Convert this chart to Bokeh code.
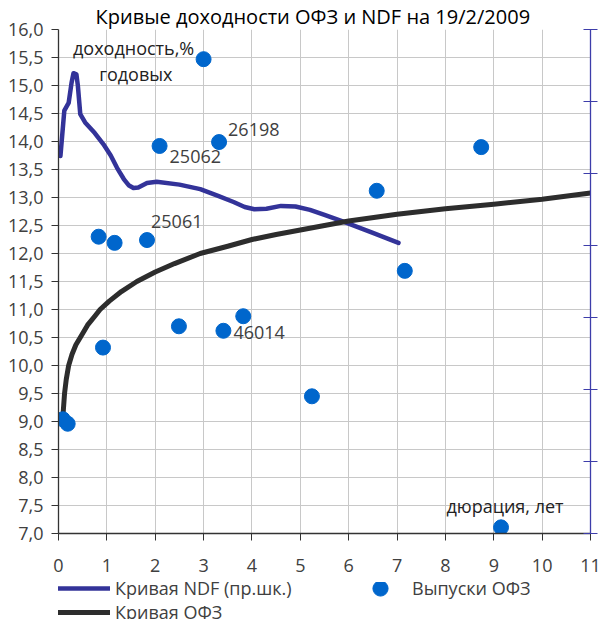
from bokeh.plotting import figure
from bokeh.layouts import column
from bokeh.models import (Range1d, LinearAxis, FixedTicker, Legend,
                          LegendItem, ColumnDataSource)
from bokeh.core.properties import value
from bokeh.embed import file_html
from bokeh.resources import INLINE

# ---------------- data ----------------
title_text = "Кривые доходности ОФЗ и NDF на 19/2/2009"

x_ticks = [0, 1, 2, 3, 4, 5, 6, 7, 8, 9, 10, 11]
y_ticks = [7.0, 7.5, 8.0, 8.5, 9.0, 9.5, 10.0, 10.5, 11.0, 11.5, 12.0, 12.5,
           13.0, 13.5, 14.0, 14.5, 15.0, 15.5, 16.0]
y_tick_labels = ["7,0", "7,5", "8,0", "8,5", "9,0", "9,5", "10,0", "10,5",
                 "11,0", "11,5", "12,0", "12,5", "13,0", "13,5", "14,0",
                 "14,5", "15,0", "15,5", "16,0"]
right_ticks = [0, 1, 2, 3, 4, 5, 6, 7]

# NDF curve (right scale, shown in left-scale units)
ndf_x = [0.04, 0.12, 0.21, 0.27, 0.31, 0.37, 0.40, 0.45, 0.55, 0.75, 0.93,
         1.08, 1.21, 1.35, 1.45, 1.55, 1.65, 1.83, 2.03, 2.5, 2.93, 3.3,
         3.62, 3.85, 4.05, 4.3, 4.6, 4.9, 5.2, 5.5, 5.89, 6.5, 7.03]
ndf_y = [13.74, 14.55, 14.69, 15.05, 15.22, 15.2, 15.0, 14.49, 14.34, 14.15,
         13.95, 13.75, 13.53, 13.33, 13.22, 13.17, 13.18, 13.26, 13.28, 13.23,
         13.15, 13.03, 12.92, 12.83, 12.79, 12.8, 12.85, 12.84, 12.78, 12.69,
         12.57, 12.37, 12.19]

# OFZ curve
ofz_x = [0.08, 0.10, 0.125, 0.16, 0.21, 0.28, 0.36, 0.45, 0.60, 0.75, 0.86,
         1.05, 1.3, 1.62, 2.0, 2.4, 2.93, 3.5, 4.0, 4.5, 5.0, 6.0, 7.0, 8.0,
         9.0, 10.0, 11.0]
ofz_y = [8.95, 9.2, 9.5, 9.75, 10.0, 10.2, 10.37, 10.5, 10.72, 10.88, 11.0,
         11.15, 11.32, 11.5, 11.67, 11.82, 12.0, 12.13, 12.25, 12.34, 12.42,
         12.58, 12.7, 12.8, 12.88, 12.97, 13.08]

# OFZ issues
bond_x = [0.09, 0.19, 0.83, 1.16, 1.83, 0.92, 2.49, 3.41, 3.82, 2.09, 3.0,
          3.32, 8.74, 6.58, 7.16, 5.24, 9.15]
bond_y = [9.04, 8.96, 12.30, 12.19, 12.24, 10.32, 10.70, 10.62, 10.88, 13.92,
          15.47, 13.99, 13.90, 13.12, 11.69, 9.45, 7.11]

# point labels: text, index of point
pt_label_text = ["25062", "26198", "25061", "46014"]
pt_label_idx = [9, 11, 4, 7]
pt_label_dx = [10, 9, 4, 10]
pt_label_dy = [11, -13, -19, 2]

legend_ndf = "Кривая NDF (пр.шк.)"
legend_ofz = "Кривая ОФЗ"
legend_bonds = "Выпуски ОФЗ"
y_title_1 = "доходность,%"
y_title_2 = "годовых"
x_title = "дюрация, лет"

FONT = "Open Sans"
TXT = "#404040"
NDF_STYLE = dict(line_color="#333399", line_width=4.5, line_cap="round",
                 line_join="round")
OFZ_STYLE = dict(line_color="#2d2d2d", line_width=5, line_cap="round",
                 line_join="round")
BOND_STYLE = dict(size=15, fill_color="#0066cc", line_color="#0066cc")

p = figure(width=603, height=582, x_range=Range1d(0, 11),
           y_range=Range1d(7, 16), output_backend="svg",
           toolbar_location=None, min_border_left=58, min_border_top=28,
           min_border_right=13, min_border_bottom=49)
p.outline_line_color = None
p.background_fill_color = "white"

p.title.text = title_text
p.title.text_font = FONT
p.title.text_font_size = "20px"
p.title.text_font_style = "normal"
p.title.text_color = "black"
p.title.align = "left"
p.title.standoff = 0
p.title.offset = 37

# axes
p.xaxis.ticker = FixedTicker(ticks=x_ticks)
p.yaxis.ticker = FixedTicker(ticks=y_ticks)
p.yaxis.major_label_overrides = {t: l for t, l in zip(y_ticks, y_tick_labels)}
for ax in (p.xaxis[0], p.yaxis[0]):
    ax.axis_line_color = "#333333"
    ax.axis_line_width = 1.3
    ax.major_tick_line_color = "#333333"
    ax.major_tick_in = 0
    ax.major_tick_out = 7
    ax.minor_tick_line_color = None
    ax.major_label_text_font = FONT
    ax.major_label_text_font_size = "18px"
    ax.major_label_text_color = TXT
p.xaxis.major_label_standoff = 18
p.yaxis.major_label_standoff = 8

p.extra_y_ranges = {"right": Range1d(0, 7)}
rax = LinearAxis(y_range_name="right", ticker=FixedTicker(ticks=right_ticks))
rax.axis_line_color = "#3d3daa"
rax.axis_line_width = 1.3
rax.major_tick_line_color = "#3d3daa"
rax.major_tick_in = 7
rax.major_tick_out = 7
rax.minor_tick_line_color = None
rax.major_label_text_font_size = "1px"
rax.major_label_standoff = 0
rax.major_label_overrides = {t: "" for t in right_ticks}
p.add_layout(rax, "right")

p.xgrid.grid_line_color = "#c8c8c8"
p.ygrid.grid_line_color = "#c8c8c8"

# marks
p.line(ndf_x, ndf_y, **NDF_STYLE)
p.line(ofz_x, ofz_y, **OFZ_STYLE)
p.scatter(bond_x, bond_y, **BOND_STYLE)

lab_src = ColumnDataSource(dict(
    x=[bond_x[i] for i in pt_label_idx],
    y=[bond_y[i] for i in pt_label_idx],
    text=pt_label_text, dx=pt_label_dx, dy=pt_label_dy))
p.text(x="x", y="y", text="text", x_offset="dx", y_offset="dy", source=lab_src,
       text_font=value(FONT), text_font_size="18px", text_color=TXT,
       text_align="left", text_baseline="middle")

ann_src = ColumnDataSource(dict(
    x=[0.30, 0.84, 8.02], y=[15.67, 15.2, 7.5],
    text=[y_title_1, y_title_2, x_title]))
p.text(x="x", y="y", text="text", source=ann_src, text_font=value(FONT),
       text_font_size="18px", text_color="#222222", text_align="left",
       text_baseline="middle")

# ---- legend strip (its own renderers lie outside its ranges) ----
p2 = figure(width=603, height=37, x_range=Range1d(0, 1), y_range=Range1d(0, 1),
            output_backend="svg", toolbar_location=None, min_border=0,
            x_axis_type=None, y_axis_type=None)
p2.outline_line_color = None
d_ndf = p2.line(ndf_x, ndf_y, **NDF_STYLE)
d_ofz = p2.line(ofz_x, ofz_y, **OFZ_STYLE)
d_bonds = p2.scatter(bond_x, bond_y, **BOND_STYLE)

legA = Legend(items=[LegendItem(label=legend_ndf, renderers=[d_ndf]),
                     LegendItem(label=legend_ofz, renderers=[d_ofz])],
              location=(-3, -5), orientation="vertical")
legA.glyph_width = 55
legA.glyph_height = 22
legA.label_height = 22
legA.label_standoff = 5

legB = Legend(items=[LegendItem(label=legend_bonds, renderers=[d_bonds])],
              location=(303, 12), orientation="vertical")
legB.glyph_width = 38
legB.glyph_height = 38
legB.label_height = 22
legB.label_standoff = 13

for lg in (legA, legB):
    lg.spacing = 0
    lg.padding = 0
    lg.margin = 0
    lg.border_line_color = None
    lg.background_fill_alpha = 0
    lg.label_text_font = FONT
    lg.label_text_font_size = "18px"
    lg.label_text_color = TXT
    p2.add_layout(lg, "center")

open("out.html", "w").write(file_html(column(p, p2, spacing=0), INLINE))
